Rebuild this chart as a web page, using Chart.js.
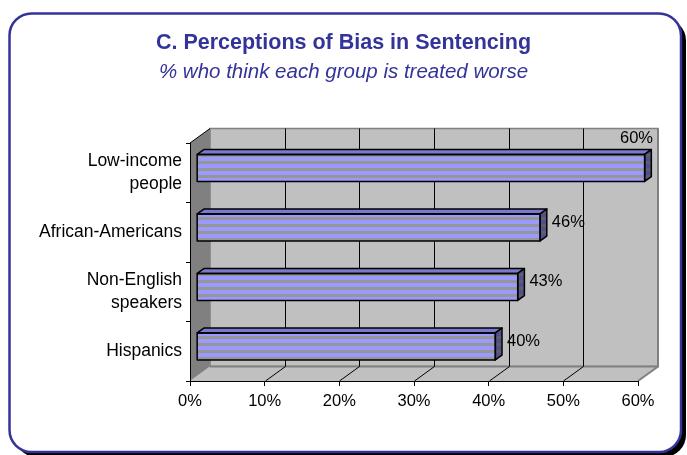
<!DOCTYPE html>
<html><head><meta charset="utf-8">
<script src="https://cdn.jsdelivr.net/npm/chart.js@4/dist/chart.umd.min.js"></script>
<style>html,body{margin:0;padding:0;background:#fff;overflow:hidden}#wrap{width:687px;height:455px}</style>
</head><body><div id="wrap"><canvas id="c" width="687" height="455"></canvas></div>
<script>
const categories = [['Low-income', 'people'], 'African-Americans', ['Non-English', 'speakers'], 'Hispanics'];
const values = [60, 46, 43, 40];
const valueLabels = ['60%', '46%', '43%', '40%'];
const tickLabels = ['0%', '10%', '20%', '30%', '40%', '50%', '60%'];
const titleText = 'C. Perceptions of Bias in Sentencing';
const subtitleText = '% who think each group is treated worse';

const FONT = '"Liberation Sans", Arial, Helvetica, sans-serif';
const NAVY = '#333399';
const DEPTH = { dx: 20, dy: -14.5 };

function stripePattern(ctx, c1, c2, period, split) {
  const p = document.createElement('canvas');
  p.width = 4; p.height = period;
  const g = p.getContext('2d');
  g.fillStyle = c1; g.fillRect(0, 0, 4, split);
  g.fillStyle = c2; g.fillRect(0, split, 4, period - split);
  return ctx.createPattern(p, 'repeat');
}
function rr(ctx, x, y, w, h, r) {
  ctx.beginPath();
  ctx.moveTo(x + r, y);
  ctx.lineTo(x + w - r, y);
  ctx.arcTo(x + w, y, x + w, y + r, r);
  ctx.lineTo(x + w, y + h - r);
  ctx.arcTo(x + w, y + h, x + w - r, y + h, r);
  ctx.lineTo(x + r, y + h);
  ctx.arcTo(x, y + h, x, y + h - r, r);
  ctx.lineTo(x, y + r);
  ctx.arcTo(x, y, x + r, y, r);
  ctx.closePath();
}
function poly(ctx, pts) {
  ctx.beginPath();
  ctx.moveTo(pts[0][0], pts[0][1]);
  for (let i = 1; i < pts.length; i++) ctx.lineTo(pts[i][0], pts[i][1]);
  ctx.closePath();
}

const framePlugin = {
  id: 'frame3d',
  beforeDraw(chart) {
    const ctx = chart.ctx;
    const a = chart.chartArea;
    const xs = chart.scales.x;
    const { dx, dy } = DEPTH;
    ctx.save();
    ctx.fillStyle = '#fff';
    ctx.fillRect(0, 0, chart.width, chart.height);
    // frame shadow + frame
    rr(ctx, 14.5, 18.5, 671.5, 438.5, 22);
    ctx.fillStyle = '#000'; ctx.fill();
    rr(ctx, 9.5, 13.5, 671.5, 438.5, 22);
    ctx.fillStyle = '#fff'; ctx.fill();
    ctx.lineWidth = 2.5; ctx.strokeStyle = NAVY; ctx.stroke();

    const L = a.left, R = a.right, T = a.top, B = a.bottom;
    // back wall
    ctx.fillStyle = '#c0c0c0';
    ctx.fillRect(L + dx, T + dy, R - L, B - T);
    ctx.lineWidth = 1.5; ctx.strokeStyle = '#808080';
    ctx.strokeRect(L + dx, T + dy, R - L, B - T);
    // floor
    poly(ctx, [[L, B], [R, B], [R + dx, B + dy], [L + dx, B + dy]]);
    ctx.fillStyle = '#c0c0c0'; ctx.fill();
    // side wall
    poly(ctx, [[L, T], [L + dx, T + dy], [L + dx, B + dy], [L, B]]);
    ctx.fillStyle = '#808080'; ctx.fill();
    ctx.lineWidth = 1; ctx.strokeStyle = '#000';
    ctx.beginPath(); ctx.moveTo(L, T); ctx.lineTo(L + dx, T + dy); ctx.stroke();
    // floor back edge
    ctx.lineWidth = 2; ctx.strokeStyle = '#808080';
    ctx.beginPath(); ctx.moveTo(L + dx, B + dy); ctx.lineTo(R + dx, B + dy); ctx.stroke();
    ctx.beginPath(); ctx.moveTo(R, B); ctx.lineTo(R + dx, B + dy); ctx.lineTo(R + dx, T + dy); ctx.stroke();
    // grid lines on back wall and floor
    ctx.lineWidth = 1; ctx.strokeStyle = '#000';
    xs.ticks.forEach(t => {
      if (t.value <= xs.min || t.value >= xs.max) return;
      const px = Math.round(xs.getPixelForValue(t.value)) + 0.5;
      ctx.beginPath();
      ctx.moveTo(px + dx, T + dy); ctx.lineTo(px + dx, B + dy);
      ctx.moveTo(px, B); ctx.lineTo(px + dx, B + dy);
      ctx.stroke();
    });
    ctx.restore();
  },
  afterDatasetsDraw(chart) {
    const ctx = chart.ctx;
    const a = chart.chartArea;
    const { dx, dy } = DEPTH;
    const fx = dx / 3, fy = dy / 3, bx = dx / 3, by = dy / 3;
    const frontPat = stripePattern(ctx, '#969696', '#9999ff', 7, 3);
    const sidePat = stripePattern(ctx, '#5e5e70', '#50508a', 7, 3);
    const meta = chart.getDatasetMeta(0);
    ctx.save();
    ctx.lineJoin = 'round';
    meta.data.forEach((el, i) => {
      const p = el.getProps(['x', 'y', 'base', 'height'], true);
      const x0 = p.base + fx, x1 = p.x + fx;
      const y0 = p.y - p.height / 2 + fy, y1 = p.y + p.height / 2 + fy;
      // front
      ctx.fillStyle = frontPat;
      ctx.fillRect(x0, y0, x1 - x0, y1 - y0);
      // top
      poly(ctx, [[x0, y0], [x1, y0], [x1 + bx, y0 + by], [x0 + bx, y0 + by]]);
      ctx.fillStyle = '#7a7acc'; ctx.fill();
      ctx.lineWidth = 1.5; ctx.strokeStyle = '#000'; ctx.stroke();
      // side
      poly(ctx, [[x1, y0], [x1 + bx, y0 + by], [x1 + bx, y1 + by], [x1, y1]]);
      ctx.fillStyle = sidePat; ctx.fill(); ctx.stroke();
      ctx.strokeRect(x0, y0, x1 - x0, y1 - y0);

      // data label
      ctx.font = '16.5px ' + FONT;
      ctx.fillStyle = '#000';
      ctx.textBaseline = 'middle';
      const txt = valueLabels[i];
      const w = ctx.measureText(txt).width;
      const wallRight = a.right + dx;
      let lx = x1 + bx + 5;
      if (lx + w > wallRight - 3) {
        ctx.textAlign = 'right';
        ctx.fillText(txt, wallRight - 5, y0 + by - 11);
      } else {
        ctx.textAlign = 'left';
        ctx.fillText(txt, lx, p.y - 10);
      }
    });
    ctx.restore();
  }
};

new Chart(document.getElementById('c').getContext('2d'), {
  type: 'bar',
  data: {
    labels: categories,
    datasets: [{
      data: values,
      backgroundColor: 'rgba(0,0,0,0)',
      borderWidth: 0,
      categoryPercentage: 1,
      barPercentage: 0.455
    }]
  },
  options: {
    indexAxis: 'y',
    responsive: false,
    animation: false,
    devicePixelRatio: 1,
    layout: { padding: { left: 0, right: 0, top: 0, bottom: 34 } },
    plugins: {
      legend: { display: false },
      tooltip: { enabled: false },
      title: {
        display: true, text: titleText, color: NAVY,
        font: { family: FONT, size: 21.5, weight: 'bold', lineHeight: 1.2 },
        padding: { top: 30.5, bottom: 0 }
      },
      subtitle: {
        display: true, text: subtitleText, color: NAVY,
        font: { family: FONT, size: 20.5, style: 'italic', lineHeight: 1.2 },
        padding: { top: 3.3, bottom: 58.8 }
      }
    },
    scales: {
      x: {
        type: 'linear', min: 0, max: 60,
        ticks: { stepSize: 10, callback: (v, i) => tickLabels[i], color: '#000', font: { family: FONT, size: 16.5 }, padding: 6, maxRotation: 0 },
        grid: { drawOnChartArea: false, drawTicks: true, tickLength: 5, color: '#000', lineWidth: 1 },
        border: { display: true, color: '#000', width: 1 },
        afterFit: s => { s.height = 40; }
      },
      y: {
        ticks: { color: '#000', font: { family: FONT, size: 17.5, lineHeight: 1.3 }, padding: 4 },
        grid: { offset: true, drawOnChartArea: false, tickLength: 4, color: '#000' },
        border: { display: true, color: '#000' },
        afterFit: s => { s.width = 190; }
      },
      yRight: {
        type: 'linear', position: 'right', display: true,
        ticks: { display: false },
        grid: { display: false, drawTicks: false },
        border: { display: false },
        afterFit: s => { s.width = 49; }
      }
    }
  },
  plugins: [framePlugin]
});
</script>
</body></html>
